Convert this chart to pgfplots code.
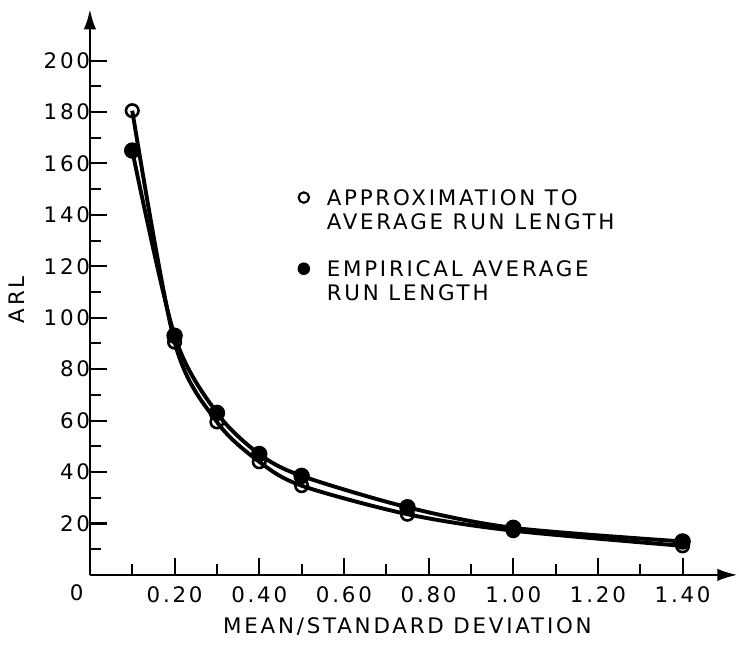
\documentclass[border=0pt]{standalone}
\usepackage{fontspec}
\setmainfont[LetterSpace=13]{DejaVu Sans}
\usepackage{pgfplots}
\pgfplotsset{compat=1.18}
\usetikzlibrary{arrows.meta}

\pgfplotstableread{
x     y
0.10  180.5
0.20  90.5
0.30  59.5
0.40  44.0
0.50  34.7
0.75  23.6
1.00  17.2
1.40  11.3
}\approxdata

\pgfplotstableread{
x     y
0.10  165.0
0.20  93.0
0.30  63.0
0.40  47.0
0.50  38.5
0.75  26.3
1.00  18.3
1.40  13.0
}\empdata

\begin{document}
\begin{tikzpicture}[font=\fontsize{8.2}{9.8}\selectfont]
\begin{axis}[
  x=162.4pt, y=0.9866pt,
  xmin=0, xmax=1.53, ymin=0, ymax=220,
  axis x line=bottom, axis y line=left,
  axis line style={line width=1pt, -{Latex[length=7.8pt,width=4.8pt]}},
  tick align=inside,
  major tick length=6.5pt, minor tick length=4.2pt,
  every tick/.style={black, line width=0.8pt},
  xtick={0.2,0.4,0.6,0.8,1.0,1.2,1.4},
  xticklabels={0.20,0.40,0.60,0.80,1.00,1.20,1.40},
  minor xtick={0.1,0.3,0.5,0.7,0.9,1.1,1.3},
  ytick={20,40,60,80,100,120,140,160,180,200},
  yticklabels={20,40,60,80,100,120,140,160,180,200},
  minor ytick={10,30,50,70,90,110,130,150,170,190},
  xticklabel style={yshift=-1pt},
  yticklabel style={xshift=3.6pt},
  xlabel={MEAN/STANDARD DEVIATION},
  ylabel={ARL},
  xlabel style={at={([yshift=-20pt]axis cs:0.75,0)}, anchor=center},
  ylabel style={at={([xshift=-28pt]axis cs:0,107)}, anchor=center, rotate=0},
  legend style={at={(axis cs:0.433,152)}, anchor=north west, draw=none, fill=none,
    row sep=3.1pt, column sep=6.6pt,
    nodes={inner sep=0pt, text height=6pt, text depth=0pt, anchor=west}},
  legend cell align=left,
  clip=false,
]
\addlegendimage{only marks, mark=o, mark size=2pt, mark options={line width=0.8pt}}
\addlegendentry{APPROXIMATION TO}
\addlegendimage{empty legend}
\addlegendentry{AVERAGE RUN LENGTH}
\addlegendimage{empty legend}
\addlegendentry{}
\addlegendimage{only marks, mark=*, mark size=2.2pt}
\addlegendentry{EMPIRICAL AVERAGE}
\addlegendimage{empty legend}
\addlegendentry{RUN LENGTH}

\addplot[black, line width=1.5pt, smooth, mark=*, mark size=2.4pt, forget plot]
  table[x=x, y=y] {\empdata};
\addplot[black, line width=1.5pt, smooth, mark=o, mark size=2.4pt,
  mark options={fill=white, line width=1pt}, forget plot]
  table[x=x, y=y] {\approxdata};

\node[anchor=north east, inner sep=0pt, xshift=-2.3pt, yshift=-3.5pt] at (axis cs:0,0) {0};
\path (axis cs:0,0) ++(-34.5pt,-24.55pt) rectangle ++(283.5pt,245.1pt);
\end{axis}
\end{tikzpicture}
\end{document}
